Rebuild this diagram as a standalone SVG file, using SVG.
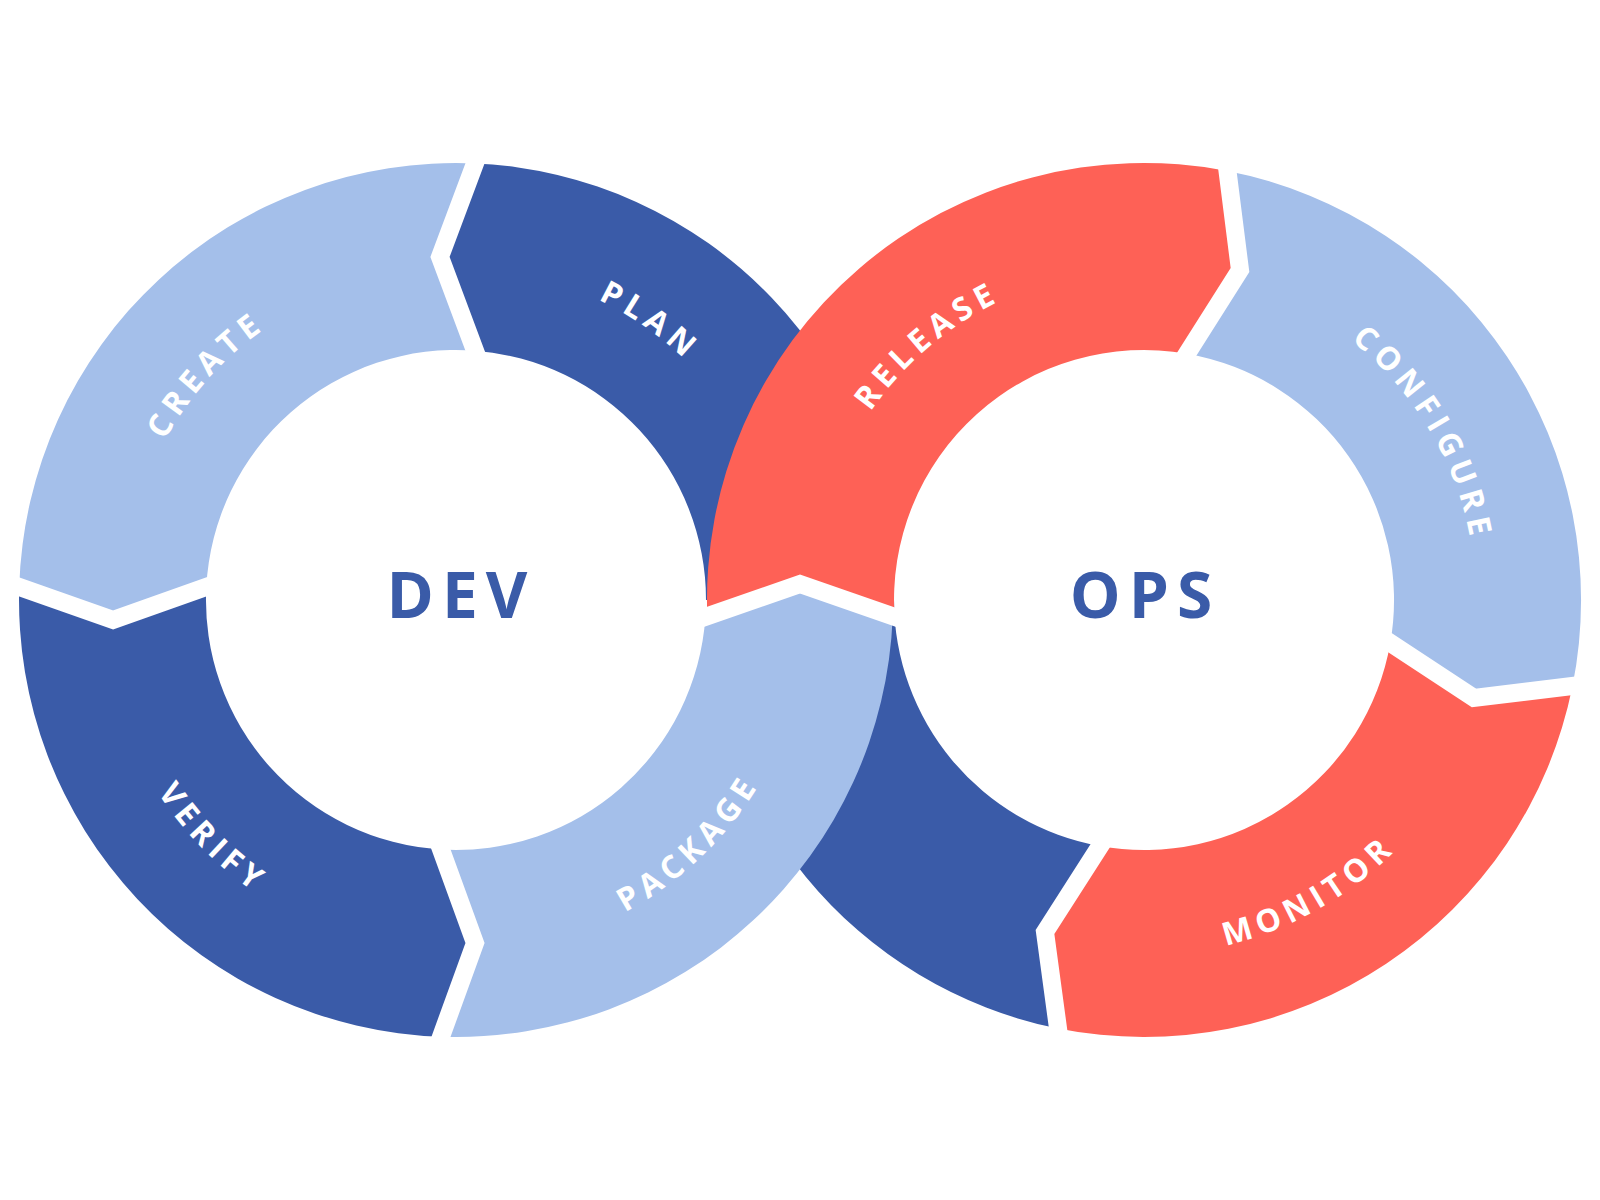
<svg xmlns="http://www.w3.org/2000/svg" width="1600" height="1200" viewBox="0 0 1600 1200">
  <style>
    .light { fill: #A4BFEA; }
    .dark { fill: #3A5BA8; }
    .red { fill: #FE6156; }
    .gap { fill: none; stroke: #FFFFFF; stroke-width: 18; stroke-linejoin: miter; stroke-linecap: butt; }
    .lbl { font-family: "Open Sans", "DejaVu Sans", sans-serif; font-weight: 700; font-size: 32px; fill: #FFFFFF; letter-spacing: 6px; text-anchor: middle; }
    .hub { font-family: "Open Sans", "DejaVu Sans", sans-serif; font-weight: 700; font-size: 64px; fill: #3A5BA8; letter-spacing: 8px; text-anchor: middle; }
  </style>
  <defs>
    <path id="p-create" d="M127.2,646.2 A332,332 0 0 1 467.6,268.2"/>
    <path id="p-plan" d="M397.2,273.2 A332,332 0 0 1 782.8,541.2"/>
    <path id="p-verify" d="M102.7,565.4 A355,355 0 0 0 483.2,954"/>
    <path id="p-package" d="M447.9,954.9 A355,355 0 0 0 810.9,608.1"/>
    <path id="p-release" d="M812,602.3 A332,332 0 0 1 1199.4,272.6"/>
    <path id="p-configure" d="M1168.9,268.9 A332,332 0 0 1 1446.6,736.6"/>
    <path id="p-monitor" d="M1019.1,932.3 A355,355 0 0 0 1492.9,665.3"/>
  </defs>
  <rect x="0" y="0" width="1600" height="1200" fill="#FFFFFF"/>

  <g id="plan">
    <path class="dark" d="M475,163.4 A437,437 0 0 1 893,600 L706,600 A250,250 0 0 0 475,350.7 L440,256.9 Z"/>
    <path class="dark" d="M1058,1028.5 A437,437 0 0 1 707,600 L894,600 A250,250 0 0 0 1100,846.1 L1045,932 Z"/>
    <text class="lbl"><textPath href="#p-plan" startOffset="50%">PLAN</textPath></text>
  </g>

  <g id="create">
    <path class="light" d="M475,163.4 A437,437 0 0 0 19.2,587 L113.1,620 L206.3,587 A250,250 0 0 1 475,350.7 L440,256.9 Z"/>
    <text class="lbl"><textPath href="#p-create" startOffset="50%">CREATE</textPath></text>
  </g>

  <g id="verify">
    <path class="dark" d="M19.2,587 A437,437 0 0 0 441,1036.7 L475,943 L441,849.5 A250,250 0 0 1 206.3,587 L113.1,620 Z"/>
    <text class="lbl"><textPath href="#p-verify" startOffset="50%">VERIFY</textPath></text>
  </g>

  <g id="package">
    <path class="light" d="M441,1036.7 A437,437 0 0 0 892.7,617 L800,584 L705.4,617 A250,250 0 0 1 441,849.5 L475,943 Z"/>
    <text class="lbl"><textPath href="#p-package" startOffset="50%">PACKAGE</textPath></text>
  </g>

  <g id="release">
    <path class="red" d="M707.3,617 A437,437 0 0 1 1227.5,171 L1240,270 L1187,353.7 A250,250 0 0 0 894.6,617 L800,584 Z"/>
    <text class="lbl"><textPath href="#p-release" startOffset="50%">RELEASE</textPath></text>
  </g>

  <g id="configure">
    <path class="light" d="M1227.5,171 A437,437 0 0 1 1572.5,686 L1474,698 L1390.3,643 A250,250 0 0 0 1187,353.7 L1240,270 Z"/>
    <text class="lbl"><textPath href="#p-configure" startOffset="50%">CONFIGURE</textPath></text>
  </g>

  <g id="monitor">
    <path class="red" d="M1572.5,686 A437,437 0 0 1 1058,1028.5 L1045,932 L1100,846.1 A250,250 0 0 0 1390.3,643 L1474,698 Z"/>
    <text class="lbl"><textPath href="#p-monitor" startOffset="50%">MONITOR</textPath></text>
  </g>

  <g id="dividers">
    <polyline class="gap" points="477.8,155.9 440,256.9 477.8,358.2"/>
    <polyline class="gap" points="11.6,584.3 113.1,620 213.8,584.3"/>
    <polyline class="gap" points="438.3,1044.2 475,943 438.3,842"/>
    <polyline class="gap" points="697.9,619.6 800,584 902.1,619.6"/>
    <polyline class="gap" points="1226.5,163.1 1240,270 1182.7,360.5"/>
    <polyline class="gap" points="1580.4,685 1474,698 1383.6,638.6"/>
    <polyline class="gap" points="1059.1,1036.4 1045,932 1104.3,839.4"/>
  </g>

  <g id="dev">
    <text class="hub" x="461" y="618">DEV</text>
  </g>
  <g id="ops">
    <text class="hub" x="1145" y="618">OPS</text>
  </g>
</svg>
